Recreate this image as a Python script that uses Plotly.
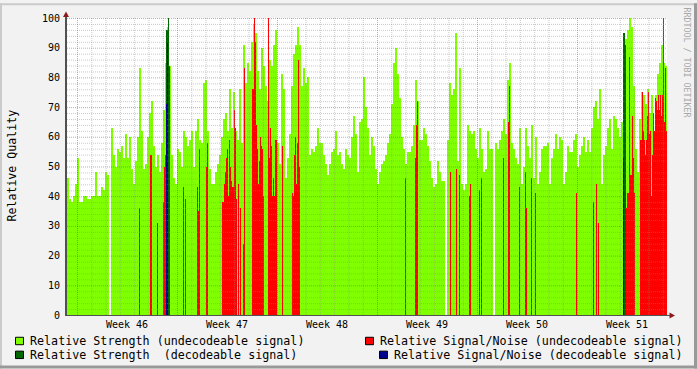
import plotly.graph_objects as go

# ---------------- data ----------------
# one sample = 1/100 week; green values are given per 2-sample bin
GREEN_BIN = 2
green = [
    46, 39, 38, 40, 44, 53, 38, 38, 40, 40, 39, 39, 40, 40, 48, 40, 40, 43, 42, 48,
    47, 0, 63, 54, 50, 56, 55, 57, 53, 61, 53, 60, 49, 44, 52, 60, 83, 62, 49, 51,
    60, 68, 72, 57, 50, 54, 48, 58, 69, 85, 97, 84, 54, 46, 44, 56, 55, 50, 62, 60,
    57, 59, 62, 50, 62, 66, 59, 58, 78, 79, 62, 49, 44, 44, 48, 51, 54, 60, 66, 68,
    62, 76, 63, 75, 62, 59, 76, 58, 91, 78, 85, 82, 92, 98, 95, 82, 76, 90, 84, 77,
    72, 86, 84, 91, 96, 58, 51, 81, 76, 46, 53, 61, 77, 88, 91, 97, 91, 77, 83, 78,
    80, 54, 56, 55, 57, 63, 58, 58, 54, 51, 47, 51, 55, 56, 62, 54, 55, 51, 49, 56,
    54, 53, 60, 67, 61, 48, 65, 66, 80, 70, 63, 54, 60, 57, 49, 44, 48, 51, 52, 54,
    58, 61, 71, 85, 90, 81, 73, 60, 56, 51, 55, 55, 57, 64, 79, 72, 59, 59, 63, 61,
    57, 52, 46, 43, 44, 52, 48, 45, 45, 0, 59, 78, 74, 76, 95, 52, 83, 44, 42, 44,
    64, 62, 61, 62, 56, 53, 63, 56, 48, 49, 62, 56, 56, 0, 58, 56, 59, 62, 66, 61,
    79, 85, 58, 56, 53, 51, 63, 44, 50, 63, 57, 53, 64, 46, 60, 44, 48, 56, 57, 57,
    58, 44, 53, 56, 61, 56, 60, 59, 44, 48, 57, 55, 55, 59, 61, 50, 54, 57, 60, 55,
    59, 55, 63, 70, 72, 66, 76, 44, 54, 57, 63, 66, 56, 67, 66, 63, 60, 65, 67, 93,
    96, 100, 97, 77, 56, 48, 66, 75, 74, 71, 76, 68, 74, 59, 74, 81, 85, 91, 85, 84,
]

red_samples = [
    72, 83, 84, 90, 96, 97, 98, 116, 118, 130, 131, 132, 139, 140,
    155, 156, 157, 158, 159, 160, 161, 162, 163, 164, 165, 166, 167, 168, 169,
    171, 173, 176, 177,
    185, 186, 187, 188, 189, 190, 191, 192, 193, 194, 195, 196,
    201, 202, 203, 204, 205, 206, 207, 208, 209, 215,
    225, 226, 227, 228, 229, 230, 231, 232,
    338, 348, 349, 350, 383, 389, 392, 402, 403, 412, 414, 436, 441, 442,
    452, 458, 459, 464, 468, 509, 526, 529, 531,
    559, 560, 561, 562, 563, 564, 565, 566, 567,
    573, 574, 575, 576, 577, 578, 579, 580, 581, 582, 583, 584, 585, 586,
    587, 588, 589, 590, 591, 592, 593, 594, 595, 596, 597, 598, 599,
]
red_vals = [
    36, 54, 54, 31, 38, 50, 54, 43, 39, 43, 35, 56, 50, 58,
    38, 38, 44, 48, 53, 56, 40, 59, 50, 45, 43, 43, 69, 63, 39,
    44, 36, 24, 83,
    76, 76, 100, 92, 64, 56, 44, 52, 60, 57, 56, 40,
    100, 53, 63, 57, 40, 46, 40, 59, 59, 57,
    41, 40, 54, 60, 44, 58, 86, 50,
    46, 53, 64, 72, 48, 49, 47, 40, 44, 42, 46, 53, 65, 77,
    43, 48, 36, 46, 41, 41, 38, 44, 31,
    36, 41, 41, 87, 47, 47, 67, 53, 41,
    59, 59, 75, 62, 59, 54, 59, 67, 75, 61, 62, 40, 54, 68,
    62, 73, 72, 69, 74, 69, 74, 67, 74, 100, 65, 83, 62,
]

dgreen_samples = [99, 100, 101, 102, 556, 557, 558]
dgreen_vals = [96, 96, 100, 84, 95, 95, 91]

blue_samples = [99, 100, 556]
blue_vals = [71, 92, 53]

week_labels = ["Week 46", "Week 47", "Week 48", "Week 49", "Week 50", "Week 51"]
N_SAMPLES = 600
FIRST_WEEK_START = 10      # sample index of first week boundary
SAMPLES_PER_WEEK = 100

# ---------------- layout constants (pixels) ----------------
W, H = 697, 369
PL, PR, PT, PB = 67, 667, 15, 315
FONT = "DejaVu Sans Mono"

C_GREEN = "#80FF00"
C_RED = "#FF0000"
C_DGREEN = "#006600"
C_BLUE = "#000090"


def px(xp):
    return (xp - PL) / (PR - PL)


def py(yp):
    return (PB - yp) / (PB - PT)


fig = go.Figure()

fig.add_bar(x=[i * GREEN_BIN for i in range(len(green))], y=green,
            width=GREEN_BIN, offset=0, marker=dict(color=C_GREEN, line=dict(width=0)),
            hoverinfo="skip", showlegend=False)
fig.add_bar(x=red_samples, y=red_vals, width=1, offset=0,
            marker=dict(color=C_RED, line=dict(width=0)), hoverinfo="skip", showlegend=False)
fig.add_bar(x=dgreen_samples, y=dgreen_vals, width=1, offset=0,
            marker=dict(color=C_DGREEN, line=dict(width=0)), hoverinfo="skip", showlegend=False)
fig.add_bar(x=blue_samples, y=blue_vals, width=1, offset=0,
            marker=dict(color=C_BLUE, line=dict(width=0)), hoverinfo="skip", showlegend=False)

# ---------------- grid drawn above the areas ----------------
half_px_y = 0.5 * 100 / (PB - PT)
half_px_x = 0.5 * N_SAMPLES / (PR - PL)


def hlines(vals):
    xs, ys = [], []
    for v in vals:
        xs += [0, N_SAMPLES, None]
        ys += [v - half_px_y, v - half_px_y, None]
    return xs, ys


def vlines(vals):
    xs, ys = [], []
    for v in vals:
        xs += [v + half_px_x, v + half_px_x, None]
        ys += [0, 100, None]
    return xs, ys


minor_h = [v for v in range(2, 100, 2) if v % 10]
major_h = list(range(10, 101, 10))
day = SAMPLES_PER_WEEK / 7
minor_v = [FIRST_WEEK_START + k * day for k in range(0, 45) if k % 7 and FIRST_WEEK_START + k * day < N_SAMPLES]
major_v = [FIRST_WEEK_START + k * SAMPLES_PER_WEEK for k in range(6)]

GRID_MINOR = "rgba(140,140,140,0.45)"
GRID_MAJOR = "rgba(200,40,40,0.45)"
for (fn, vals, col) in [(hlines, minor_h, GRID_MINOR), (vlines, minor_v, GRID_MINOR),
                        (hlines, major_h, GRID_MAJOR), (vlines, major_v, GRID_MAJOR)]:
    xs, ys = fn(vals)
    fig.add_scatter(x=xs, y=ys, mode="lines", line=dict(color=col, width=1, dash="1px,1px"),
                    hoverinfo="skip", showlegend=False, cliponaxis=False)

# ---------------- shapes: axes, arrows, frame, legend boxes ----------------
shapes = []
AX = "#505050"
ARROW = "#8B1A1A"
shapes.append(dict(type="line", xref="paper", yref="paper", x0=px(66), x1=px(66), y0=py(315.5), y1=py(12),
                   line=dict(color=AX, width=2), layer="above"))
shapes.append(dict(type="line", xref="paper", yref="paper", x0=px(65), x1=px(671), y0=py(315.5), y1=py(315.5),
                   line=dict(color=AX, width=1), layer="above"))


def tri(pts):
    p = "M " + " L ".join(f"{px(a)},{py(b)}" for a, b in pts) + " Z"
    return p


shapes.append(dict(type="path", xref="paper", yref="paper", path=tri([(66, 8.5), (63, 14), (69, 14)]),
                   fillcolor=ARROW, line=dict(width=0), layer="above"))
shapes.append(dict(type="path", xref="paper", yref="paper", path=tri([(675, 315.5), (669.5, 312.5), (669.5, 318.5)]),
                   fillcolor=ARROW, line=dict(width=0), layer="above"))

# 3d-like frame
for (x0, x1, y0, y1, c) in [(0, W, 0, 2, "#CBCBCB"), (0, 2, 0, H, "#CBCBCB"),
                            (W - 3, W, 0, H, "#999999"), (0, W, H - 3, H, "#999999")]:
    shapes.append(dict(type="rect", xref="paper", yref="paper", x0=px(x0), x1=px(x1), y0=py(y0), y1=py(y1),
                       fillcolor=c, line=dict(width=0), layer="above"))

legend_items = [
    (15.5, 337.5, C_GREEN, 30, 341, "Relative Strength (undecodeable signal)"),
    (365.5, 337.5, C_RED, 380, 341, "Relative Signal/Noise (undecodeable signal)"),
    (15.5, 351.5, C_DGREEN, 30, 355, "Relative Strength\u00a0 (decodeable signal)"),
    (379.5, 351.5, C_BLUE, 394, 355, "Relative Signal/Noise (decodeable signal)"),
]
annotations = []
for (bx, by, col, tx, ty, txt) in legend_items:
    shapes.append(dict(type="rect", xref="paper", yref="paper", x0=px(bx), x1=px(bx + 8), y0=py(by), y1=py(by + 7.5),
                       fillcolor=col, line=dict(color="black", width=1), layer="above"))
    annotations.append(dict(text=txt, xref="paper", yref="paper", x=px(tx - 2), y=py(ty), xanchor="left",
                            yanchor="middle", showarrow=False, font=dict(family=FONT, size=11.7, color="black")))

annotations.append(dict(text="Relative Quality", xref="paper", yref="paper", x=px(12), y=py(164),
                        textangle=-90, xanchor="center", yanchor="middle", showarrow=False,
                        font=dict(family=FONT, size=11.6, color="black")))
annotations.append(dict(text="RRDTOOL / TOBI OETIKER", xref="paper", yref="paper", x=px(687), y=py(60),
                        textangle=90, xanchor="center", yanchor="middle", showarrow=False,
                        font=dict(family=FONT, size=8.3, color="#A8A8A8")))

fig.update_layout(
    width=W, height=H,
    margin=dict(l=PL, r=W - PR, t=PT, b=H - PB, pad=0),
    paper_bgcolor="#F2F2F2", plot_bgcolor="white",
    barmode="overlay", bargap=0,
    showlegend=False,
    shapes=shapes, annotations=annotations,
    xaxis=dict(range=[0, N_SAMPLES], showgrid=False, zeroline=False, showline=False,
               tickmode="array",
               tickvals=[FIRST_WEEK_START + SAMPLES_PER_WEEK * (i + 0.5) for i in range(len(week_labels))],
               ticktext=week_labels, ticks="", ticklabelstandoff=2,
               tickfont=dict(family=FONT, size=10, color="black"), fixedrange=True),
    yaxis=dict(range=[0, 100], showgrid=False, zeroline=False, showline=False,
               tickmode="array", tickvals=list(range(0, 101, 10)), ticks="", ticklabelstandoff=6,
               tickfont=dict(family=FONT, size=10, color="black"), fixedrange=True),
)

fig.write_html("out.html")
